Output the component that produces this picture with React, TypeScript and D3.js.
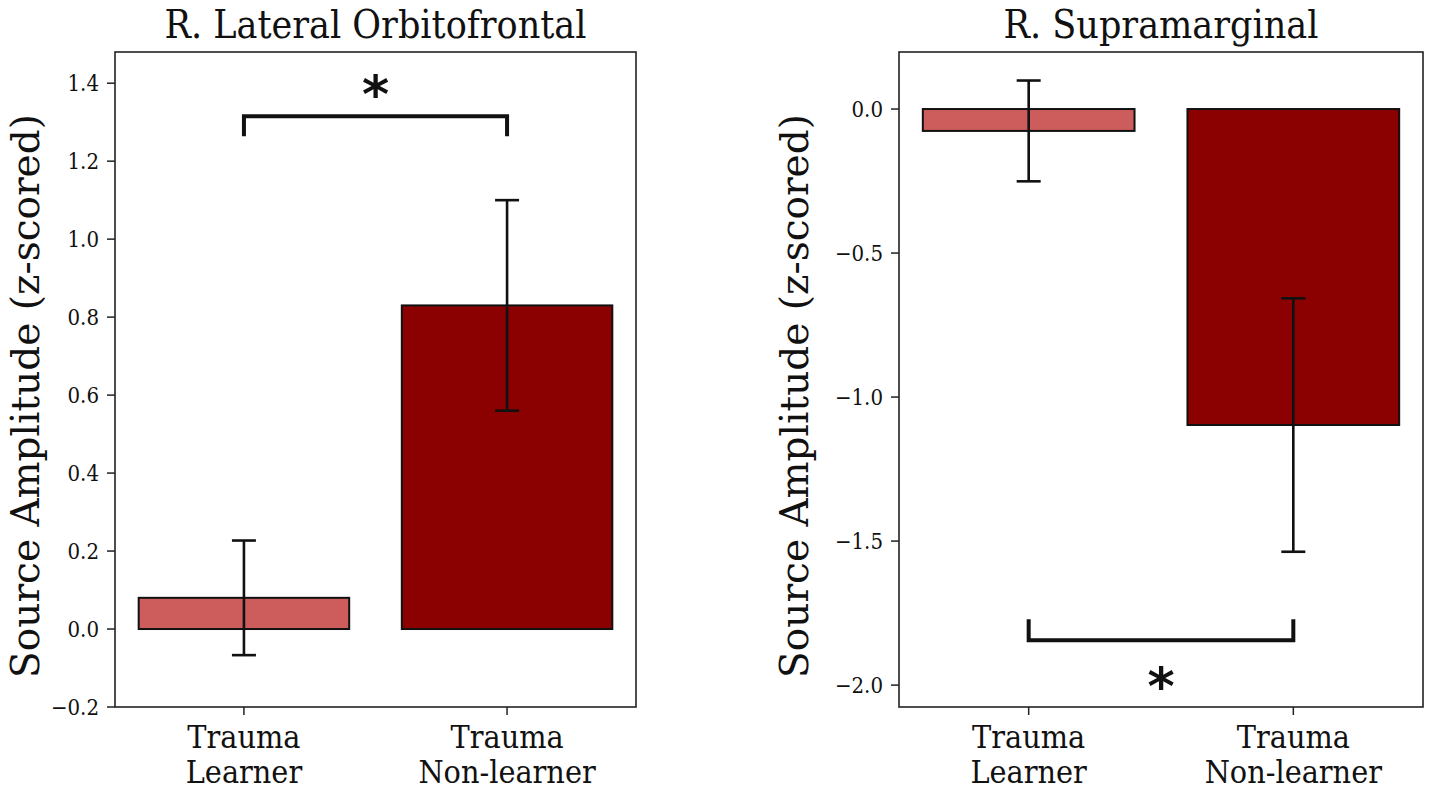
import * as d3 from "d3";
import React from "react";

// groups on the x axis (two-line labels)
const categories = ["Trauma\nLearner", "Trauma\nNon-learner"];
const barColors = ["#cd5c5c", "#8b0000"];

// R. Lateral Orbitofrontal
const lofMeans = [0.08, 0.83];
const lofErrors = [0.147, 0.27];
const lofTicks = [-0.2, 0.0, 0.2, 0.4, 0.6, 0.8, 1.0, 1.2, 1.4];
const lofDomain = [-0.2, 1.48];
const lofBracket = [1.315, 1.264]; // bar level, leg end
const lofStar = 1.4;

// R. Supramarginal
const smgMeans = [-0.076, -1.097];
const smgErrors = [0.175, 0.44];
const smgTicks = [0.0, -0.5, -1.0, -1.5, -2.0];
const smgDomain = [-2.076, 0.198];
const smgBracket = [-1.844, -1.771];
const smgStar = -1.965;

const W = 1430;
const H = 791;
const TOP = 52;
const BOTTOM = 707;
const SERIF_C = "'DejaVu Serif Condensed', 'DejaVu Serif', serif";
const SERIF = "'DejaVu Serif', serif";

interface PanelProps {
  title: string;
  left: number;
  right: number;
  means: number[];
  errors: number[];
  ticks: number[];
  domain: number[];
  bracket: number[];
  star: number;
  labelX: number;
}

const fmt = (v: number) => d3.format(".1f")(v).replace("-", "\u2212");

const Panel: React.FC<PanelProps> = ({
  title,
  left,
  right,
  means,
  errors,
  ticks,
  domain,
  bracket,
  star,
  labelX,
}) => {
  const x = d3.scaleLinear().domain([-0.49, 1.49]).range([left, right]);
  const y = d3.scaleLinear().domain(domain).range([BOTTOM, TOP]);
  const bw = x(0.4) - x(0);
  const mid = (x(0) + x(1)) / 2;

  const bracketPath = d3.path();
  bracketPath.moveTo(x(0), y(bracket[1]));
  bracketPath.lineTo(x(0), y(bracket[0]));
  bracketPath.lineTo(x(1), y(bracket[0]));
  bracketPath.lineTo(x(1), y(bracket[1]));

  return (
    <g>
      <text
        x={(left + right) / 2}
        y={38}
        textAnchor="middle"
        fontFamily={SERIF_C}
        fontSize={39}
        fill="#111"
      >
        {title}
      </text>

      {/* bars */}
      {means.map((m, i) => (
        <rect
          key={"b" + i}
          x={x(i) - bw}
          y={Math.min(y(m), y(0))}
          width={bw * 2}
          height={Math.abs(y(m) - y(0))}
          fill={barColors[i]}
          stroke="#111"
          strokeWidth={2}
        />
      ))}

      {/* error bars */}
      {means.map((m, i) => (
        <g key={"e" + i} stroke="#111" strokeWidth={2.6}>
          <line x1={x(i)} x2={x(i)} y1={y(m + errors[i])} y2={y(m - errors[i])} />
          <line x1={x(i) - 12} x2={x(i) + 12} y1={y(m + errors[i])} y2={y(m + errors[i])} />
          <line x1={x(i) - 12} x2={x(i) + 12} y1={y(m - errors[i])} y2={y(m - errors[i])} />
        </g>
      ))}

      {/* significance */}
      <path d={bracketPath.toString()} fill="none" stroke="#111" strokeWidth={4} />
      <text
        x={mid}
        y={y(star) + 29}
        textAnchor="middle"
        fontFamily="'DejaVu Sans', sans-serif"
        fontWeight="bold"
        fontSize={52}
        fill="#111"
      >
        *
      </text>

      {/* frame */}
      <rect
        x={left}
        y={TOP}
        width={right - left}
        height={BOTTOM - TOP}
        fill="none"
        stroke="#222"
        strokeWidth={1.6}
      />

      {/* y ticks */}
      {ticks.map((t) => (
        <g key={"t" + t}>
          <line x1={left - 8} x2={left} y1={y(t)} y2={y(t)} stroke="#222" strokeWidth={1.5} />
          <text
            x={left - 16}
            y={y(t)}
            dy="0.36em"
            textAnchor="end"
            fontFamily={SERIF_C}
            fontSize={22}
            fill="#111"
          >
            {fmt(t)}
          </text>
        </g>
      ))}

      {/* x ticks */}
      {categories.map((c, i) => (
        <g key={"c" + i}>
          <line x1={x(i)} x2={x(i)} y1={BOTTOM} y2={BOTTOM + 8} stroke="#222" strokeWidth={1.5} />
          {c.split("\n").map((line, j) => (
            <text
              key={j}
              x={x(i)}
              y={748 + j * 35}
              textAnchor="middle"
              fontFamily={SERIF_C}
              fontSize={32}
              fill="#111"
            >
              {line}
            </text>
          ))}
        </g>
      ))}

      <text
        transform={`translate(${labelX},396) rotate(-90)`}
        textAnchor="middle"
        fontFamily={SERIF}
        fontSize={39}
        fill="#111"
      >
        Source Amplitude (z-scored)
      </text>
    </g>
  );
};

export default function App() {
  return (
    <svg
      width={W}
      height={H}
      style={{ position: "absolute", left: 0, top: 0, background: "#fff" }}
    >
      <rect width={W} height={H} fill="#fff" />
      <Panel
        title="R. Lateral Orbitofrontal"
        left={115}
        right={636}
        means={lofMeans}
        errors={lofErrors}
        ticks={lofTicks}
        domain={lofDomain}
        bracket={lofBracket}
        star={lofStar}
        labelX={39}
      />
      <Panel
        title="R. Supramarginal"
        left={899}
        right={1423}
        means={smgMeans}
        errors={smgErrors}
        ticks={smgTicks}
        domain={smgDomain}
        bracket={smgBracket}
        star={smgStar}
        labelX={808}
      />
    </svg>
  );
}
